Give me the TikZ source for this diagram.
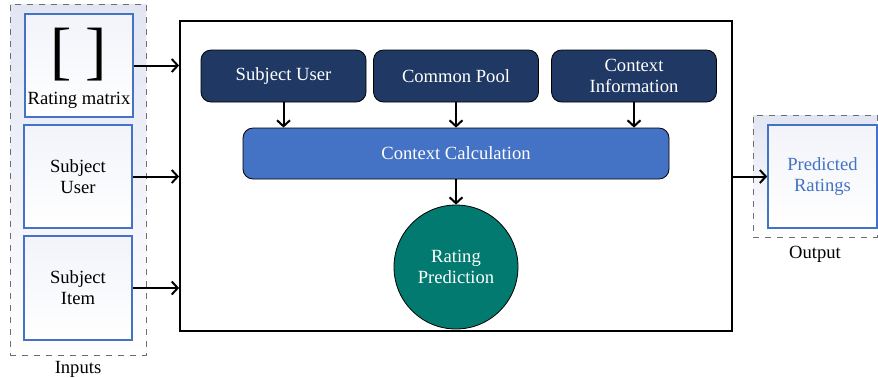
\documentclass[tikz,border=0pt]{standalone}
\usepackage{fontspec}
\setmainfont{Liberation Serif}
\usepackage{xcolor}
\usetikzlibrary{arrows.meta,positioning}
\definecolor{navy}{HTML}{203864}
\definecolor{midblue}{HTML}{4472C4}
\definecolor{predteal}{HTML}{037A70}
\definecolor{haze}{HTML}{E2E6F3}
\definecolor{dashgray}{HTML}{6E6E6E}
\tikzset{
  group/.style={draw=dashgray,dashed,line width=.5pt,top color=haze,bottom color=white,inner sep=0pt},
  inbox/.style={draw=midblue,line width=.8pt,top color=haze!45,bottom color=white,align=center,inner sep=0pt},
  darkbox/.style={draw=black,line width=.4pt,fill=navy,text=white,rounded corners=5pt,align=center,
    minimum width=82.5pt,minimum height=26pt,inner sep=0pt},
  arr/.style={-{Straight Barb[length=3pt,width=6.5pt]},line width=1pt}
}
\begin{document}
\begin{tikzpicture}[x=.5pt,y=-.5pt,font=\fontsize{9.3}{10.5}\selectfont]
  \useasboundingbox (0,0) rectangle (878,377);
  % inputs
  \node[group,minimum width=68pt,minimum height=175.5pt] (inputs) at (78,179.5) {};
  \node[below=2.5pt of inputs,inner sep=0pt] (inlabel) {Inputs};
  \node[inbox,minimum width=54pt,minimum height=51.5pt] (ratemat) at (79,65.5) {};
  \node[inner sep=0pt,font=\fontsize{32}{32}\selectfont] (brackets) at (79,55) {[\hspace{7pt}]};
  \node[inner sep=0pt] (matlabel) at (79,100) {Rating matrix};
  \node[inbox,minimum width=54pt,minimum height=51.5pt] (subjuser) at (78,176.5) {Subject\\User};
  \node[inbox,minimum width=54pt,minimum height=52pt] (subjitem) at (78,288) {Subject\\Item};
  % main block
  \node[draw=black,line width=.9pt,fill=white,minimum width=276pt,minimum height=155pt,inner sep=0pt] (main) at (456,176) {};
  \node[darkbox] (srcuser) at (283.5,76) {Subject User};
  \node[darkbox] (srcpool) at (456,76) {Common Pool};
  \node[darkbox] (srcctx) at (634,76) {Context\\Information};
  \node[draw=black,line width=.4pt,fill=midblue,text=white,rounded corners=5pt,
    minimum width=213pt,minimum height=25.5pt,inner sep=0pt] (calc) at (456,153.5) {Context Calculation};
  \node[circle,draw=black,line width=.4pt,fill=predteal,text=white,align=center,
    minimum size=62pt,inner sep=0pt] (rate) at (456,267) {Rating\\Prediction};
  % output
  \node[group,minimum width=62pt,minimum height=61pt] (outgrp) at (815,176) {};
  \node[below=4pt of outgrp,inner sep=0pt] (outlabel) {Output};
  \node[inbox,text=midblue,minimum width=54.5pt,minimum height=51.5pt] (pred) at (822.5,176.5) {Predicted\\Ratings};
  % connectors
  \draw[arr] (ratemat.east) -- (ratemat.east -| main.west);
  \draw[arr] (subjuser.east) -- (subjuser.east -| main.west);
  \draw[arr] (subjitem.east) -- (subjitem.east -| main.west);
  \draw[arr] (srcuser.south) -- (srcuser.south |- calc.north);
  \draw[arr] (srcpool.south) -- (srcpool.south |- calc.north);
  \draw[arr] (srcctx.south) -- (srcctx.south |- calc.north);
  \draw[arr] (calc.south) -- (rate.north);
  \draw[arr] (main.east |- pred.west) -- (pred.west);
\end{tikzpicture}
\end{document}
